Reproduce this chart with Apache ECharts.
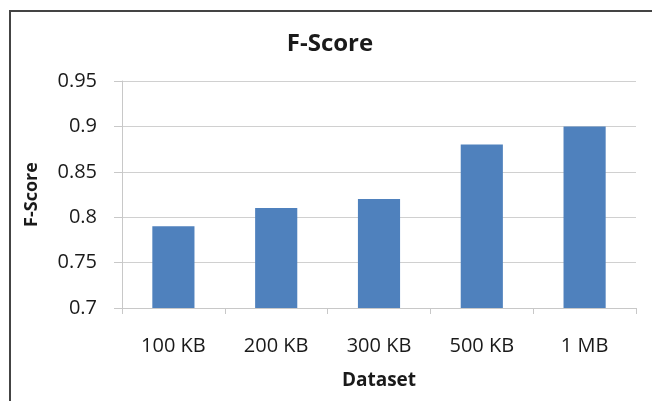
<!DOCTYPE html>
<html>
<head>
<meta charset="utf-8">
<script src="https://cdn.jsdelivr.net/npm/echarts@6/dist/echarts.min.js"></script>
<style>
  html, body { margin: 0; padding: 0; background: #fff; }
  #frame { position: absolute; left: 9px; top: 10px; width: 643px; height: 391px;
           border-top: 2px solid #444; border-left: 2px solid #444; box-sizing: border-box; }
  #chart { position: absolute; left: 0; top: 0; width: 652px; height: 401px; }
</style>
</head>
<body>
<div id="frame"></div>
<div id="chart"></div>
<script>
// Dataset sizes and their F-Score
const categories = ['100 KB', '200 KB', '300 KB', '500 KB', '1 MB'];
const fScores = [0.79, 0.81, 0.82, 0.88, 0.90];
const yTicks = { min: 0.7, max: 0.95, step: 0.05 };

const chart = echarts.init(document.getElementById('chart'), null, { renderer: 'canvas' });
const font = '"Open Sans", Lato, sans-serif';

chart.setOption({
  backgroundColor: 'transparent',
  animation: false,
  title: {
    text: 'F-Score',
    left: 325, top: 27, textAlign: 'center',
    textStyle: { fontFamily: font, fontSize: 24, fontWeight: 'bold', color: '#1a1a1a' }
  },
  grid: { left: 122, right: 16, top: 81, bottom: 93, containLabel: false, outerBoundsMode: 'none' },
  xAxis: {
    type: 'category',
    data: categories,
    name: 'Dataset',
    nameLocation: 'middle',
    nameGap: 63,
    nameTextStyle: { fontFamily: font, fontSize: 19, fontWeight: 'bold', color: '#1a1a1a' },
    axisLine: { lineStyle: { color: '#c8c8c8', width: 1 } },
    axisTick: { show: true, alignWithLabel: false, length: 6, lineStyle: { color: '#c8c8c8' } },
    axisLabel: { fontFamily: font, fontSize: 20, color: '#1a1a1a', margin: 28 }
  },
  yAxis: {
    type: 'value',
    min: yTicks.min, max: yTicks.max, interval: yTicks.step,
    name: 'F-Score',
    nameLocation: 'middle',
    nameGap: 81,
    nameRotate: 90,
    nameTextStyle: { fontFamily: font, fontSize: 18, fontWeight: 'bold', color: '#1a1a1a' },
    axisLine: { show: true, lineStyle: { color: '#c8c8c8', width: 1 } },
    axisTick: { show: true, length: 8, lineStyle: { color: '#c8c8c8' } },
    axisLabel: {
      fontFamily: font, fontSize: 20, color: '#1a1a1a', margin: 25,
      formatter: v => String(Math.round(v * 100) / 100)
    },
    splitLine: { show: true, lineStyle: { color: '#d0d0d0', width: 1 } }
  },
  series: [{
    type: 'bar',
    data: fScores,
    barWidth: '41%',
    itemStyle: { color: '#4F81BD' }
  }]
});
</script>
</body>
</html>
